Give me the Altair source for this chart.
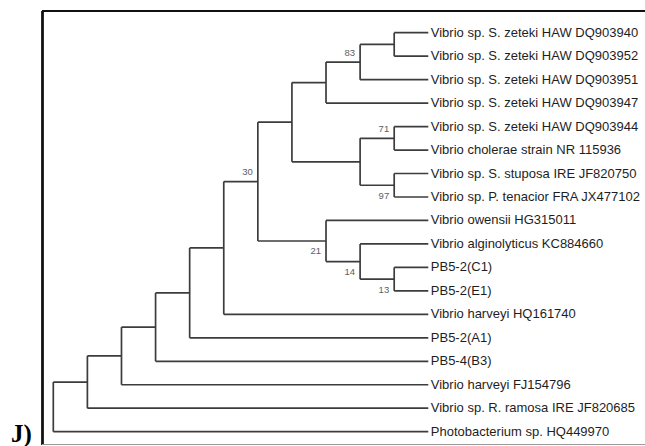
import altair as alt
import pandas as pd

# ---- data: tree topology ----
leaf_names = [
    "Vibrio sp. S. zeteki HAW DQ903940",
    "Vibrio sp. S. zeteki HAW DQ903952",
    "Vibrio sp. S. zeteki HAW DQ903951",
    "Vibrio sp. S. zeteki HAW DQ903947",
    "Vibrio sp. S. zeteki HAW DQ903944",
    "Vibrio cholerae strain NR 115936",
    "Vibrio sp. S. stuposa IRE JF820750",
    "Vibrio sp. P. tenacior FRA JX477102",
    "Vibrio owensii HG315011",
    "Vibrio alginolyticus KC884660",
    "PB5-2(C1)",
    "PB5-2(E1)",
    "Vibrio harveyi HQ161740",
    "PB5-2(A1)",
    "PB5-4(B3)",
    "Vibrio harveyi FJ154796",
    "Vibrio sp. R. ramosa IRE JF820685",
    "Photobacterium sp. HQ449970",
]
leaf_depth = 11

node_ids = ["n11", "n10", "n9", "n13", "n14", "n12", "n8", "n17", "n16", "n15",
            "n7", "n6", "n5", "n4", "n3", "n2", "root"]
node_children = [
    ["Vibrio sp. S. zeteki HAW DQ903940", "Vibrio sp. S. zeteki HAW DQ903952"],
    ["n11", "Vibrio sp. S. zeteki HAW DQ903951"],
    ["n10", "Vibrio sp. S. zeteki HAW DQ903947"],
    ["Vibrio sp. S. zeteki HAW DQ903944", "Vibrio cholerae strain NR 115936"],
    ["Vibrio sp. S. stuposa IRE JF820750", "Vibrio sp. P. tenacior FRA JX477102"],
    ["n13", "n14"],
    ["n9", "n12"],
    ["PB5-2(C1)", "PB5-2(E1)"],
    ["Vibrio alginolyticus KC884660", "n17"],
    ["Vibrio owensii HG315011", "n16"],
    ["n8", "n15"],
    ["n7", "Vibrio harveyi HQ161740"],
    ["n6", "PB5-2(A1)"],
    ["n5", "PB5-4(B3)"],
    ["n4", "Vibrio harveyi FJ154796"],
    ["n3", "Vibrio sp. R. ramosa IRE JF820685"],
    ["n2", "Photobacterium sp. HQ449970"],
]
node_depth = [10, 9, 8, 10, 10, 9, 7, 10, 9, 8, 6, 5, 4, 3, 2, 1, 0]
node_support = ["", "83", "", "71", "97", "", "", "13", "14", "21",
                "30", "", "", "", "", "", ""]
support_side = ["", "above", "", "above", "below", "", "", "below", "below", "below",
                "above", "", "", "", "", "", ""]

# ---- layout (pixels) ----
W, H = 645, 446
X0_PX, STEP_PX = 53.3, 34.09   # root position and per-level spacing
Y0_PX, ROW_PX = 32.7, 23.47    # first leaf row and row spacing

# ---- build geometry via tree ----
pos = {}
for i, n in enumerate(leaf_names):
    pos[n] = (leaf_depth, float(i))
for nid, ch, d in zip(node_ids, node_children, node_depth):
    ys = [pos[c][1] for c in ch]
    pos[nid] = (d, (min(ys) + max(ys)) / 2)

seg_rows = []
for nid, ch, d in zip(node_ids, node_children, node_depth):
    ys = [pos[c][1] for c in ch]
    seg_rows.append(dict(x=d, x2=d, y=min(ys), y2=max(ys)))
    for c in ch:
        cx, cy = pos[c]
        seg_rows.append(dict(x=d, x2=cx, y=cy, y2=cy))
segs = pd.DataFrame(seg_rows)

leaves = pd.DataFrame(dict(name=leaf_names,
                           x=[leaf_depth] * len(leaf_names),
                           y=list(range(len(leaf_names)))))

sup_rows = []
for nid, s, side in zip(node_ids, node_support, support_side):
    if s:
        x, y = pos[nid]
        sup_rows.append(dict(label=s, x=x, y=y, side=side))
sup = pd.DataFrame(sup_rows)

xscale = alt.Scale(domain=[-X0_PX / STEP_PX, (W - X0_PX) / STEP_PX], nice=False, zero=False)
yscale = alt.Scale(domain=[-Y0_PX / ROW_PX, (H - Y0_PX) / ROW_PX], nice=False, zero=False,
                   reverse=True)

X = lambda f: alt.X(f, type="quantitative", scale=xscale, axis=None)
Y = lambda f: alt.Y(f, type="quantitative", scale=yscale, axis=None)

branches = alt.Chart(segs).mark_rule(color="#3c3c3c", strokeWidth=1.7).encode(
    x=X("x"), x2="x2", y=Y("y"), y2="y2")

labels = alt.Chart(leaves).mark_text(
    align="left", baseline="middle", dx=2.5, fontSize=13,
    font="Liberation Sans", color="#1e1e1e").encode(
    x=X("x"), y=Y("y"), text="name:N")

sup_above = alt.Chart(sup).transform_filter(alt.datum.side == "above").mark_text(
    align="right", baseline="middle", dx=-5, dy=-9.5, fontSize=9.5,
    font="Liberation Sans", color="#606060").encode(
    x=X("x"), y=Y("y"), text="label:N")

sup_below = alt.Chart(sup).transform_filter(alt.datum.side == "below").mark_text(
    align="right", baseline="middle", dx=-5, dy=10.5, fontSize=9.5,
    font="Liberation Sans", color="#606060").encode(
    x=X("x"), y=Y("y"), text="label:N")

frame_top = alt.Chart(leaves).mark_rule(color="#111111", strokeWidth=1.2).encode(
    x=alt.value(42), x2=alt.value(W), y=alt.value(11))
frame_left = alt.Chart(leaves).mark_rule(color="#111111", strokeWidth=1.2).encode(
    x=alt.value(42.5), y=alt.value(11), y2=alt.value(445))
frame_bottom = alt.Chart(leaves).mark_rule(color="#9a9a9a", strokeWidth=1.2).encode(
    x=alt.value(42), x2=alt.value(W), y=alt.value(444.5))

panel = alt.Chart(pd.DataFrame(dict(t=["J)"]))).mark_text(
    align="left", baseline="alphabetic", fontSize=25, fontWeight="bold",
    font="Liberation Serif", color="#000000").encode(
    x=alt.value(11), y=alt.value(442), text="t:N")

chart = alt.layer(frame_top, frame_left, frame_bottom, branches, labels,
                  sup_above, sup_below, panel).properties(
    width=W, height=H, padding=0,
    autosize=alt.AutoSizeParams(type="none"),
).configure_view(stroke=None)

chart.save("out.html", embed_options={"renderer": "svg", "actions": False})
